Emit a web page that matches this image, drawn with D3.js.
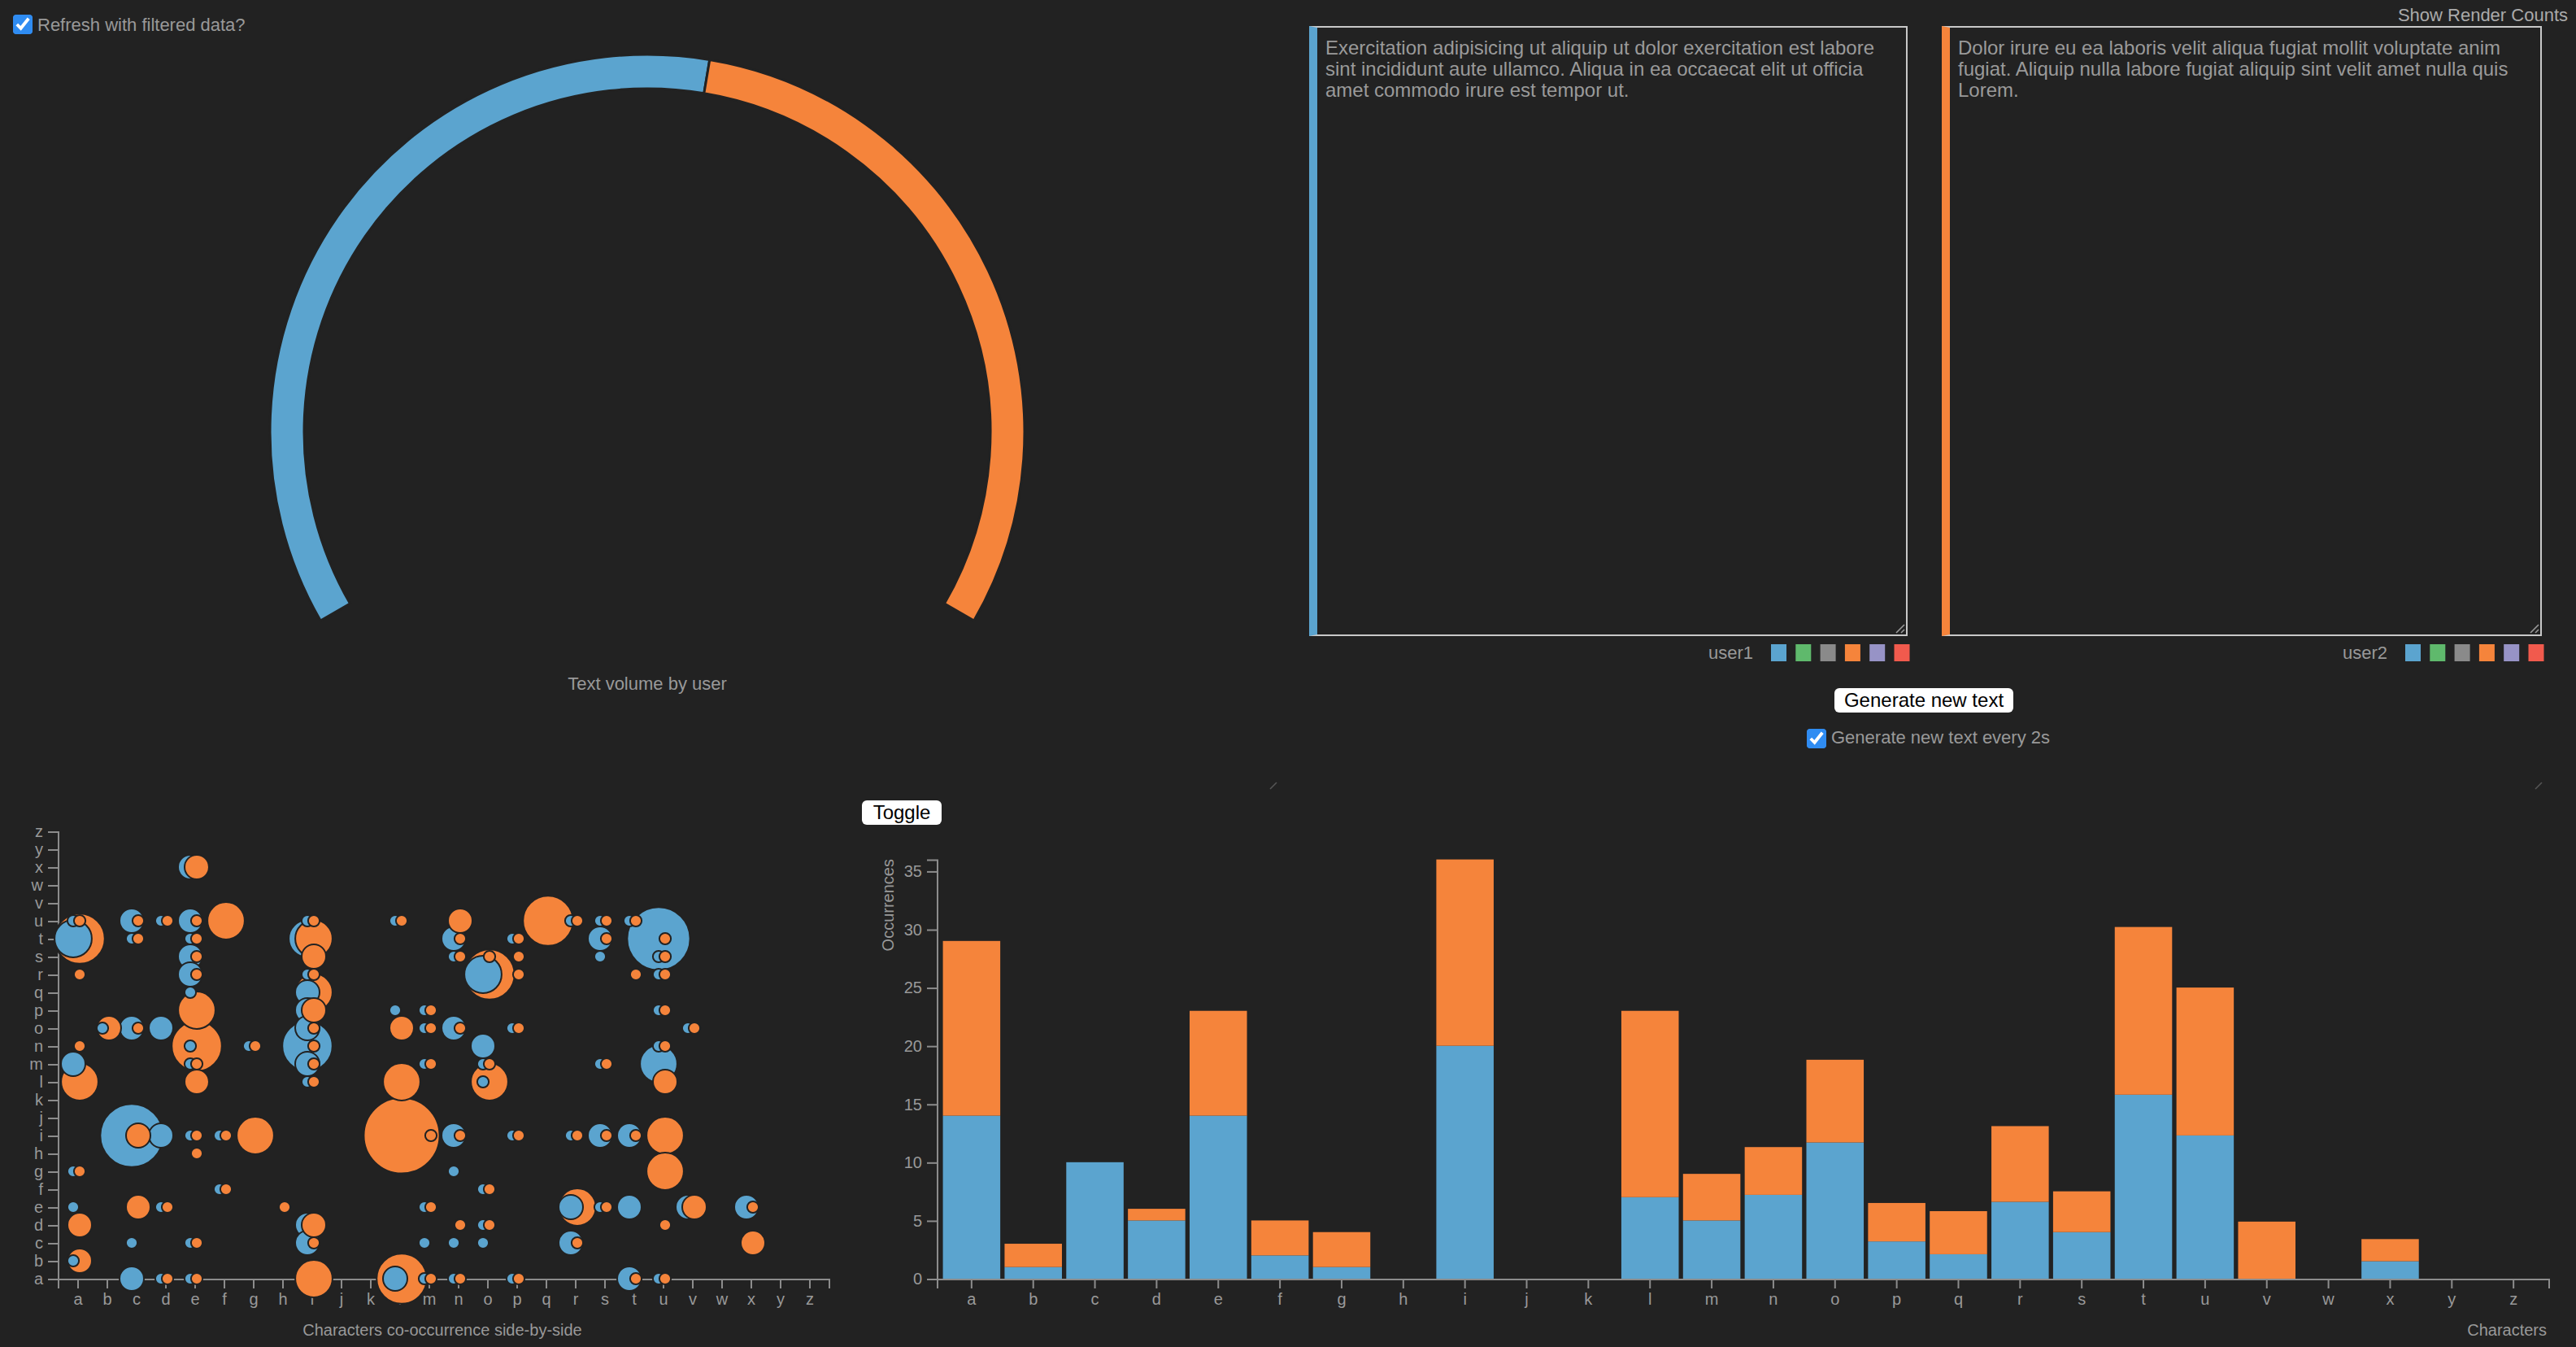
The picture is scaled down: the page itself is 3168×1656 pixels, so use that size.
<!DOCTYPE html>
<html>
<head>
<meta charset="utf-8">
<script src="https://cdn.jsdelivr.net/npm/d3@7"></script>
<style>
html, body { margin: 0; padding: 0; background: #222; overflow: hidden; }
#page { zoom: 2; position: relative; width: 1584px; height: 828px; font-family: "Liberation Sans", Arial, sans-serif; color: #999; font-size: 11px; }
#chart, #overlay { position: absolute; left: 0; top: 0; }
#overlay { pointer-events: none; }
.abs { position: absolute; white-space: nowrap; }
input[type=checkbox] { margin: 0; width: 12px; height: 12px; accent-color: #2f8cf2; }
textarea { position: absolute; box-sizing: border-box; background: #222; color: #9a9a9a; border: 1px solid #c8c8c8; font-family: "Liberation Sans", Arial, sans-serif; font-size: 12px; line-height: 13px; padding: 6px 12px 4px 5px; overflow: hidden; resize: none; outline: none; }
button { position: absolute; background: #fff; color: #000; border: none; border-radius: 3px; font-family: "Liberation Sans", Arial, sans-serif; font-size: 12px; padding: 0; height: 15px; line-height: 15px; }
</style>
</head>
<body>
<div id="page">
  <svg id="chart"></svg>
  <input type="checkbox" checked class="abs" style="left:8px;top:9px">
  <div class="abs" style="left:23px;top:9px">Refresh with filtered data?</div>
  <div class="abs" style="right:5px;top:3px;color:#aaa">Show Render Counts</div>
  <textarea id="ta1" style="left:805px;top:16px;width:368px;height:375px;border-left:5px solid #5ba4cf">Exercitation adipisicing ut aliquip ut dolor exercitation est labore sint incididunt aute ullamco. Aliqua in ea occaecat elit ut officia amet commodo irure est tempor ut.</textarea>
  <textarea id="ta2" style="left:1194px;top:16px;width:369px;height:375px;border-left:5px solid #f5843b">Dolor irure eu ea laboris velit aliqua fugiat mollit voluptate anim fugiat. Aliquip nulla labore fugiat aliquip sint velit amet nulla quis Lorem.</textarea>
  <button style="left:1128px;top:423px;width:110px">Generate new text</button>
  <input type="checkbox" checked class="abs" style="left:1111px;top:448px">
  <div class="abs" style="left:1126px;top:447px">Generate new text every 2s</div>
  <button style="left:530px;top:492px;width:49px">Toggle</button>
  <svg id="overlay"></svg>
</div>
<script>
// donnees
const users = ["user1", "user2"];
const userColors = ["#5ba4cf", "#f5843b"];
const legendColors = ["#5ba4cf", "#5fb96c", "#8a8a8a", "#f5843b", "#9793c6", "#f15a4d"];
const textVolume = [170, 145];
const letters = "abcdefghijklmnopqrstuvwxyz".split("");

// lettres par utilisateur (barres empilees)
const barUser1 = [14, 1, 10, 5, 14, 2, 1, 0, 20, 0, 0, 7, 5, 7.2, 11.7, 3.2, 2.1, 6.6, 4, 15.8, 12.3, 0, 0, 1.5, 0, 0];
const barUser2 = [15, 2, 0, 1, 9, 3, 3, 0, 16, 0, 0, 16, 4, 4.1, 7.1, 3.3, 3.7, 6.5, 3.5, 14.4, 12.7, 4.9, 0, 1.9, 0, 0];
const yTicks = [0, 5, 10, 15, 20, 25, 30, 35];

// paires de lettres voisines : [x puis y, nombre]
const pairsUser1 = [
  ["au",1],["at",3],["am",2],["ag",1],["ae",1],["ab",1],
  ["bo",1],
  ["cu",2],["ct",1],["co",2],["ci",5],["cc",1],["ca",2],
  ["du",1],["do",2],["di",2],["de",1],["da",1],
  ["ex",2],["eu",2],["et",1],["es",2],["er",2],["eq",1],["en",1],["em",1],["ei",1],["ec",1],["ea",1],
  ["fi",1],["ff",1],
  ["gn",1],
  ["iu",1],["it",3],["ir",1],["iq",2],["ip",2],["io",2],["in",4],["im",2],["il",1],["id",2],["ic",2],
  ["lu",1],["lp",1],["la",2],
  ["mp",1],["mo",1],["mm",1],["me",1],["mc",1],["ma",1],
  ["nt",2],["ns",1],["no",2],["ni",2],["ng",1],["nc",1],["na",1],
  ["or",3],["on",2],["om",1],["ol",1],["of",1],["od",1],["oc",1],
  ["pt",1],["po",1],["pi",1],["pa",1],
  ["ru",1],["ri",1],["re",2],["rc",2],
  ["su",1],["st",2],["ss",1],["sm",1],["si",2],["se",1],
  ["tu",1],["ti",2],["te",2],["ta",2],
  ["ut",5],["us",1],["ur",1],["up",1],["un",1],["um",3],["ua",1],
  ["vo",1],["ve",2],
  ["xe",2]
];
const pairsUser2 = [
  ["au",1],["at",4],["ar",1],["an",1],["al",3],["ag",1],["ad",2],["ab",2],
  ["bo",2],
  ["cu",1],["ct",1],["co",1],["ci",2],["ce",2],
  ["du",1],["de",1],["da",1],
  ["ex",2],["eu",1],["et",1],["es",1],["er",1],["ep",3],["en",4],["em",1],["el",2],["ei",1],["eh",1],["ec",1],["ea",1],
  ["fu",3],["fi",1],["ff",1],
  ["gn",1],["gi",3],
  ["he",1],
  ["iu",1],["it",3],["is",2],["ir",1],["iq",3],["ip",2],["io",1],["in",1],["im",1],["il",1],["id",2],["ic",1],["ia",3],
  ["lu",1],["lo",2],["ll",3],["li",6],["la",4],
  ["mp",1],["mo",1],["mm",1],["mi",1],["me",1],["ma",1],
  ["nu",2],["nt",1],["ns",1],["no",1],["ni",1],["nd",1],["na",1],
  ["os",1],["or",4],["om",1],["ol",3],["of",1],["od",1],
  ["pt",1],["ps",1],["pr",1],["po",1],["pi",1],["pa",1],
  ["qu",4],
  ["ru",1],["ri",1],["re",3],["rc",1],
  ["su",1],["st",1],["sm",1],["si",1],["se",1],
  ["tu",1],["tr",1],["ti",1],["ta",1],
  ["ut",1],["us",1],["ur",1],["up",1],["un",1],["ul",2],["ui",3],["ug",3],["ud",1],["ua",1],
  ["vo",1],["ve",2],
  ["xe",1],["xc",2]
];

const svg = d3.select("#chart").attr("width", 1584).attr("height", 828);
const overlay = d3.select("#overlay").attr("width", 1584).attr("height", 828);
const axisColor = "#8c8c8c";
const textColor = "#999";

function styleAxis(g) {
  g.select(".domain").attr("stroke", axisColor);
  g.selectAll(".tick line").attr("stroke", axisColor);
  g.selectAll(".tick text").attr("fill", textColor).attr("font-size", 10)
    .attr("font-family", "Liberation Sans, Arial, sans-serif");
}

// 1. demi-anneau : volume de texte
const pie = d3.pie().sort(null).startAngle(-2 * Math.PI / 3).endAngle(2 * Math.PI / 3);
const arc = d3.arc().innerRadius(211).outerRadius(232);
const donut = svg.append("g").attr("transform", "translate(398,265.5)");
donut.selectAll("path")
  .data(pie(textVolume))
  .join("path")
  .attr("d", arc)
  .attr("fill", (d, i) => userColors[i])
  .attr("stroke", "#222")
  .attr("stroke-width", 1.5);
svg.append("text")
  .attr("x", 398).attr("y", 424)
  .attr("text-anchor", "middle")
  .attr("fill", textColor).attr("font-size", 11)
  .text("Text volume by user");

// legendes sous les zones de texte
[[1078, 0], [1468, 1]].forEach(([xEnd, u]) => {
  svg.append("text")
    .attr("x", xEnd).attr("y", 405)
    .attr("text-anchor", "end")
    .attr("fill", textColor).attr("font-size", 11)
    .text(users[u]);
  svg.append("g").selectAll("rect")
    .data(legendColors)
    .join("rect")
    .attr("x", (d, i) => xEnd + 11 + i * 15.15)
    .attr("y", 396)
    .attr("width", 9.5).attr("height", 10.5)
    .attr("fill", d => d);
});

// poignees de redimensionnement
[[1173, 391], [1563, 391]].forEach(([cx, cy]) => {
  overlay.append("path")
    .attr("d", `M${cx - 7},${cy - 2}L${cx - 2},${cy - 7}M${cx - 4},${cy - 2}L${cx - 2},${cy - 4}`)
    .attr("stroke", "#9a9a9a").attr("stroke-width", 0.8).attr("fill", "none");
});
[[784, 484], [1562, 484]].forEach(([cx, cy]) => {
  svg.append("path")
    .attr("d", `M${cx - 3},${cy + 1}L${cx + 1},${cy - 3}`)
    .attr("stroke", "#555").attr("stroke-width", 0.8).attr("fill", "none");
});

// 2. bulles : co-occurrence des caracteres
const bx = d3.scalePoint().domain(letters).range([35.5, 509.5]).padding(2 / 3);
const by = d3.scalePoint().domain(letters).range([786, 511]);
const rScale = d3.scaleLinear().domain([1, 6]).range([3.55, 23.3]);

const bubble = svg.append("g");
bubble.append("g")
  .attr("transform", "translate(35.5,0)")
  .call(d3.axisLeft(by))
  .call(styleAxis);
bubble.append("g")
  .attr("transform", "translate(0,786)")
  .call(d3.axisBottom(bx))
  .call(styleAxis);

const bubbles = [];
[pairsUser1, pairsUser2].forEach((list, u) => {
  list.forEach(([p, n]) => bubbles.push({ user: u, x: p[0], y: p[1], n: n }));
});
bubbles.sort((a, b) => b.n - a.n);

bubble.append("g").selectAll("circle")
  .data(bubbles)
  .join("circle")
  .attr("cx", d => bx(d.x) + (d.user === 0 ? -2.5 : 1.5))
  .attr("cy", d => by(d.y))
  .attr("r", d => rScale(d.n))
  .attr("fill", d => userColors[d.user])
  .attr("stroke", "#222")
  .attr("stroke-width", 1);

bubble.append("text")
  .attr("x", 272).attr("y", 821)
  .attr("text-anchor", "middle")
  .attr("fill", textColor).attr("font-size", 10)
  .text("Characters co-occurrence side-by-side");

// 3. barres empilees par caractere
const table = letters.map((c, i) => ({ letter: c, user1: barUser1[i], user2: barUser2[i] }));
const series = d3.stack().keys(users)(table);

const x = d3.scaleBand().domain(letters).range([576, 1567]).paddingInner(0.07).paddingOuter(0.1);
const y = d3.scaleLinear()
  .domain([0, d3.max(table, d => d.user1 + d.user2)])
  .range([786, 528.3]);

const bars = svg.append("g");
bars.selectAll("g.layer")
  .data(series)
  .join("g")
  .attr("class", "layer")
  .attr("fill", (d, i) => userColors[i])
  .selectAll("rect")
  .data(d => d)
  .join("rect")
  .attr("x", d => x(d.data.letter))
  .attr("y", d => y(d[1]))
  .attr("width", x.bandwidth())
  .attr("height", d => y(d[0]) - y(d[1]));

bars.append("g")
  .attr("transform", "translate(0,786)")
  .call(d3.axisBottom(x))
  .call(styleAxis);
bars.append("g")
  .attr("transform", "translate(576,0)")
  .call(d3.axisLeft(y).tickValues(yTicks))
  .call(styleAxis);

bars.append("text")
  .attr("transform", "translate(546,528) rotate(-90)")
  .attr("text-anchor", "end")
  .attr("dy", "0.35em")
  .attr("fill", textColor).attr("font-size", 10)
  .text("Occurrences");
bars.append("text")
  .attr("x", 1566).attr("y", 821)
  .attr("text-anchor", "end")
  .attr("fill", textColor).attr("font-size", 10)
  .text("Characters");
</script>
</body>
</html>
